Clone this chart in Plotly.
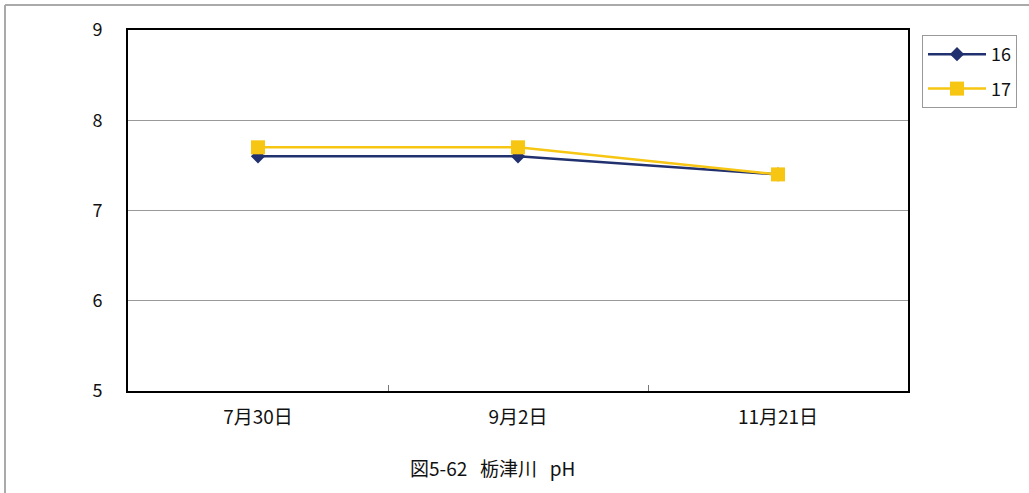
import plotly.graph_objects as go

categories = ["7月30日", "9月2日", "11月21日"]
series_16 = [7.6, 7.6, 7.4]
series_17 = [7.7, 7.7, 7.4]
y_ticks = [5, 6, 7, 8, 9]

W, H = 1029, 493
L, R, T, B = 128, 121, 30, 102
pw, ph = W - L - R, H - T - B

def px(x):
    return (x - L) / pw

def py(y):
    return (H - B - y) / ph

font = "Noto Sans CJK JP"
fig = go.Figure()
fig.add_trace(go.Scatter(x=categories, y=series_16, name="16", mode="lines+markers",
                         legendgroup="a",
                         line=dict(color="#21306E", width=2.5),
                         marker=dict(symbol="diamond", size=11, color="#21306E")))
fig.add_trace(go.Scatter(x=categories, y=series_17, name="17", mode="lines+markers",
                         legendgroup="b",
                         line=dict(color="#F6C612", width=2.5),
                         marker=dict(symbol="square", size=14, color="#F6C612")))

fig.update_layout(
    width=W, height=H,
    margin=dict(l=L, r=R, t=T, b=B, autoexpand=False),
    paper_bgcolor="white", plot_bgcolor="white",
    font=dict(family=font, size=18, color="#111"),
    showlegend=True,
    legend=dict(x=px(922), y=py(35), xanchor="left", yanchor="top",
                bordercolor="#999", borderwidth=1, bgcolor="white",
                font=dict(size=18), tracegroupgap=8, itemwidth=58),
    xaxis=dict(type="category", range=[-0.5, 2.5], showline=True, linecolor="black",
               linewidth=2, mirror=True, ticks="inside", tickson="boundaries",
               ticklen=6, tickcolor="#777", showgrid=False, fixedrange=True,
               ticklabelstandoff=8, tickfont=dict(size=19)),
    yaxis=dict(range=[5, 9], tickvals=y_ticks, showline=True, linecolor="black",
               linewidth=2, mirror=True, showgrid=True, gridcolor="#999",
               gridwidth=1, ticks="", zeroline=False, ticklabelstandoff=20,
               fixedrange=True),
    annotations=[dict(text="図5-62   栃津川   pH", x=px(492), y=py(467), xref="paper",
                      yref="paper", showarrow=False, xanchor="center", yanchor="middle",
                      font=dict(size=19))],
    shapes=[
        dict(type="line", xref="paper", yref="paper", x0=px(5), x1=px(1029),
             y0=py(5), y1=py(5), line=dict(color="#AAA", width=2)),
        dict(type="line", xref="paper", yref="paper", x0=px(5), x1=px(5),
             y0=py(5), y1=py(493), line=dict(color="#AAA", width=2)),
    ],
)
fig.write_html("out.html", config={"displayModeBar": False},
               post_script="document.body.style.margin='0';")
